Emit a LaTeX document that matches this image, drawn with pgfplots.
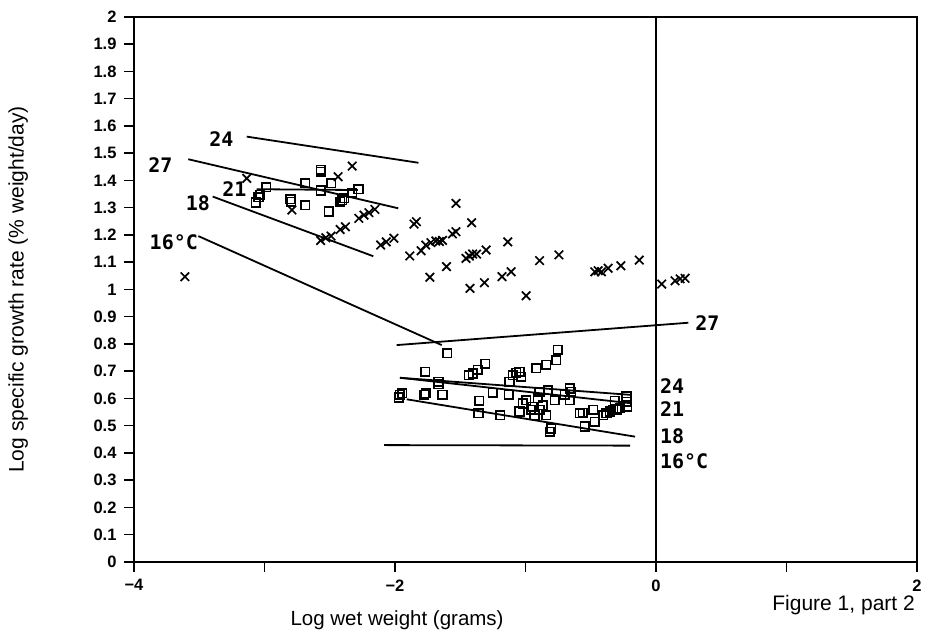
\documentclass[border=0pt]{standalone}
\usepackage{fontspec}
\setmainfont{Liberation Sans}
\newfontfamily\annfont{DejaVu Sans Mono}
\usepackage{pgfplots}
\pgfplotsset{compat=1.18}
\begin{document}
\begin{tikzpicture}
\useasboundingbox (-134pt,-69pt) rectangle (798pt,562pt);
\begin{axis}[
  at={(0pt,0pt)}, anchor=south west,
  scale only axis, width=783pt, height=545pt,
  xmin=-4, xmax=2, ymin=0, ymax=2,
  axis line style={line width=1.5pt},
  tick align=outside, tick pos=left,
  major tick length=10pt, minor tick length=10pt,
  every tick/.style={black, line width=1.5pt},
  every minor tick/.style={black, line width=1.5pt},
  xtick={-4,-2,0,2}, minor xtick={-3,-1,1},
  xticklabels={−4,−2,0,2},
  ytick={0,0.1,0.2,0.3,0.4,0.5,0.6,0.7,0.8,0.9,1,1.1,1.2,1.3,1.4,1.5,1.6,1.7,1.8,1.9,2},
  yticklabels={0,0.1,0.2,0.3,0.4,0.5,0.6,0.7,0.8,0.9,1,1.1,1.2,1.3,1.4,1.5,1.6,1.7,1.8,1.9,2},
  ticklabel style={font=\bfseries\fontsize{16.5}{16.5}\selectfont},
  yticklabel style={xshift=-4pt},
  xticklabel style={yshift=-4pt},
  xlabel={Log wet weight (grams)},
  ylabel={Log specific growth rate (\% weight/day)},
  every axis x label/.style={at={(axis description cs:0.336,0)}, anchor=north, yshift=-48.5pt, inner sep=0pt, font=\fontsize{20.5}{20.5}\selectfont},
  every axis y label/.style={at={(axis description cs:-0.148,0.5)}, rotate=90, anchor=center, inner sep=0pt, font=\fontsize{21}{21}\selectfont},
  clip=false,
]
% vertical line at x = 0
\addplot[black, line width=1.6pt] coordinates {(0,0) (0,2)};

% regression lines, upper group
\addplot[black, line width=1.8pt] coordinates {(-3.136,1.561) (-1.82,1.465)};
\addplot[black, line width=1.8pt] coordinates {(-3.584,1.478) (-1.975,1.298)};
\addplot[black, line width=1.8pt] coordinates {(-3.06,1.368) (-2.284,1.365)};
\addplot[black, line width=1.8pt] coordinates {(-3.397,1.341) (-2.166,1.122)};
\addplot[black, line width=1.8pt] coordinates {(-3.507,1.196) (-1.642,0.796)};
% regression lines, lower group
\addplot[black, line width=1.8pt] coordinates {(-1.987,0.796) (0.248,0.878)};
\addplot[black, line width=1.8pt] coordinates {(-1.962,0.676) (-0.186,0.613)};
\addplot[black, line width=1.8pt] coordinates {(-1.962,0.676) (-0.199,0.583)};
\addplot[black, line width=1.8pt] coordinates {(-1.91,0.597) (-0.161,0.46)};
\addplot[black, line width=1.8pt] coordinates {(-2.084,0.429) (-0.199,0.427)};

% crosses
\addplot[only marks, mark=x, mark size=6pt, black, line width=1.7pt] coordinates {
(-3.61,1.047) (-3.136,1.408) (-2.79,1.292) (-2.436,1.414) (-2.328,1.453)
(-2.57,1.18) (-2.53,1.19) (-2.49,1.196)
(-2.42,1.22) (-2.38,1.23)
(-2.277,1.261) (-2.238,1.273) (-2.2,1.282) (-2.154,1.294)
(-2.11,1.163) (-2.067,1.175) (-2.008,1.188)
(-1.854,1.24) (-1.836,1.249)
(-1.533,1.316)
(-1.887,1.123)
(-1.80,1.142) (-1.765,1.163) (-1.725,1.172) (-1.687,1.178) (-1.66,1.176) (-1.636,1.18)
(-1.733,1.045) (-1.605,1.084)
(-1.56,1.204) (-1.533,1.212)
(-1.413,1.245)
(-1.456,1.114) (-1.43,1.123) (-1.405,1.13) (-1.375,1.13) (-1.302,1.145)
(-1.425,1.004) (-1.315,1.025)
(-1.18,1.047) (-1.11,1.065)
(-1.136,1.175)
(-0.995,0.977)
(-0.892,1.106)
(-0.744,1.127)
(-0.469,1.065) (-0.443,1.069) (-0.418,1.065) (-0.367,1.078)
(-0.269,1.087)
(-0.128,1.108)
(0.044,1.02)
(0.146,1.032) (0.185,1.039) (0.223,1.041)
};

% squares
\addplot[only marks, mark=square, mark size=4.3pt, black, line width=1.6pt] coordinates {
(-3.067,1.319) (-3.046,1.338) (-3.033,1.347) (-2.988,1.375)
(-2.80,1.331) (-2.795,1.322) (-2.687,1.31) (-2.687,1.39)
(-2.57,1.439) (-2.57,1.432) (-2.57,1.363) (-2.49,1.39)
(-2.508,1.286) (-2.42,1.322) (-2.39,1.335) (-2.405,1.328)
(-2.328,1.355) (-2.28,1.368)
(-1.60,0.766) (-1.77,0.698) (-1.667,0.662) (-1.667,0.653)
(-1.964,0.613) (-1.97,0.604) (-1.944,0.619)
(-1.777,0.613) (-1.764,0.619) (-1.636,0.613)
(-1.436,0.686) (-1.405,0.692) (-1.367,0.705) (-1.308,0.727)
(-1.354,0.592) (-1.36,0.546) (-1.251,0.621) (-1.195,0.539)
(-1.123,0.662) (-1.097,0.686) (-1.072,0.695) (-1.046,0.698) (-1.033,0.68)
(-1.128,0.613)
(-1.046,0.552) (-1.021,0.582) (-0.995,0.594) (-0.956,0.558) (-0.944,0.57)
(-0.931,0.539) (-0.905,0.601) (-0.892,0.558) (-0.867,0.576) (-0.841,0.539)
(-0.918,0.711) (-0.841,0.723) (-0.764,0.741) (-0.751,0.778)
(-0.892,0.625) (-0.828,0.631) (-0.777,0.594)
(-0.815,0.478) (-0.803,0.49)
(-0.7,0.613) (-0.662,0.637) (-0.649,0.625) (-0.662,0.594)
(-0.585,0.546) (-0.56,0.548) (-0.546,0.497)
(-0.482,0.558) (-0.469,0.515)
(-0.405,0.539) (-0.379,0.546) (-0.354,0.552) (-0.328,0.558) (-0.303,0.558) (-0.277,0.564)
(-0.315,0.592)
(-0.226,0.607) (-0.226,0.588) (-0.22,0.57)
};

% line labels
\begin{scope}[every node/.style={font=\annfont\bfseries\fontsize{20}{20}\selectfont, inner sep=0pt}]
\node[anchor=center] at (axis cs:-3.33,1.552) {24};
\node[anchor=center] at (axis cs:-3.797,1.455) {27};
\node[anchor=center] at (axis cs:-3.23,1.367) {21};
\node[anchor=center] at (axis cs:-3.51,1.316) {18};
\node[anchor=center] at (axis cs:-3.695,1.172) {16°C};
\node[anchor=west] at (axis cs:0.30,0.876) {27};
\node[anchor=west] at (axis cs:0.03,0.647) {24};
\node[anchor=west] at (axis cs:0.03,0.561) {21};
\node[anchor=west] at (axis cs:0.03,0.463) {18};
\node[anchor=west] at (axis cs:0.03,0.371) {16°C};
\end{scope}

\node[anchor=north east, inner sep=0pt, font=\fontsize{21}{21}\selectfont] at (axis description cs:1,0) [yshift=-33pt, xshift=-2pt] {Figure 1, part 2};
\end{axis}
\end{tikzpicture}
\end{document}
